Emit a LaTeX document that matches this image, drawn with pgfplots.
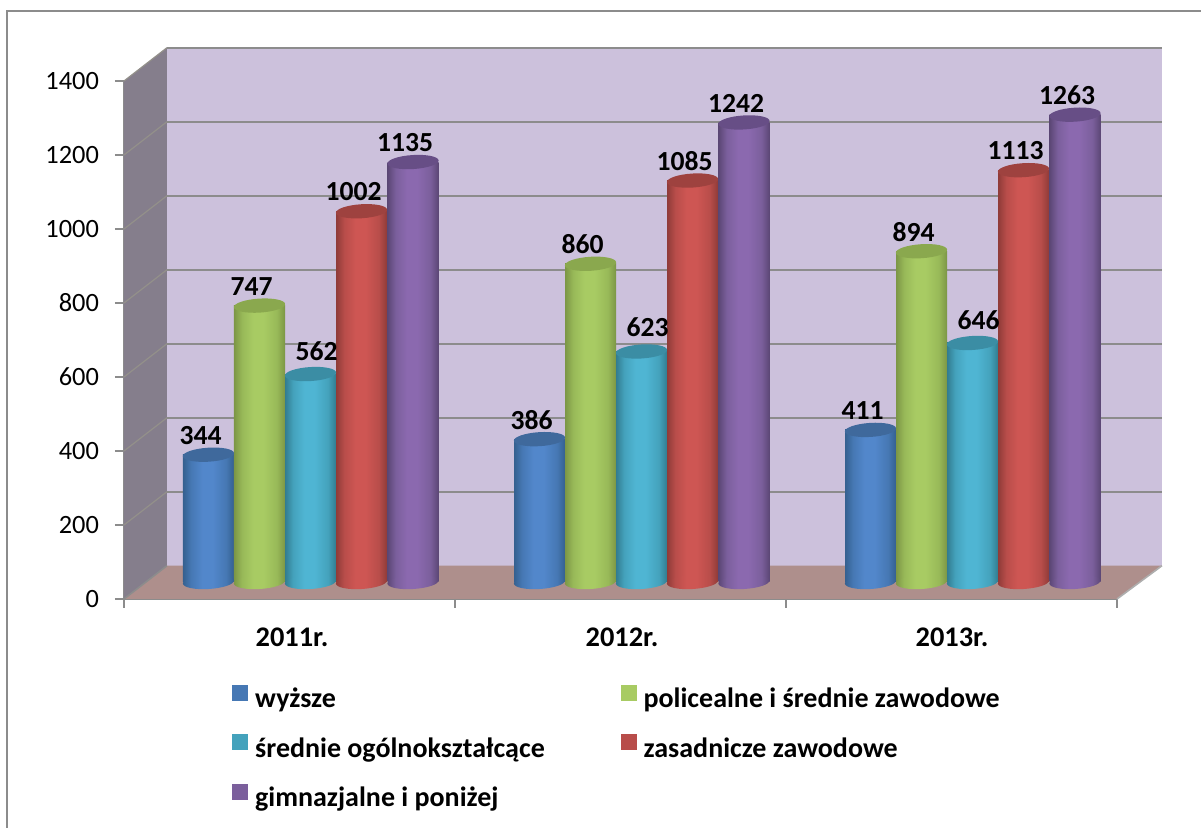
\documentclass[border=0pt]{standalone}
\usepackage{fontspec}
\setmainfont{Carlito}
\usepackage{pgfplots}
\pgfplotsset{compat=1.18}

% 1 reference pixel = 0.5pt; x axis is in reference pixels
\definecolor{wallback}{HTML}{CCC1DC}
\definecolor{wallside}{HTML}{857E8C}
\definecolor{wallfloor}{HTML}{AE8F8C}
\definecolor{linegray}{HTML}{8C8C8C}
\definecolor{sideline}{HTML}{93908A}

\definecolor{bluedk}{HTML}{35608F}\definecolor{bluemd}{HTML}{4678B4}\definecolor{bluelt}{HTML}{5287CB}\definecolor{bluetop}{HTML}{3F699C}
\definecolor{greendk}{HTML}{7C9646}\definecolor{greenmd}{HTML}{98B958}\definecolor{greenlt}{HTML}{A8CB63}\definecolor{greentop}{HTML}{8AA84E}
\definecolor{tealdk}{HTML}{327C90}\definecolor{tealmd}{HTML}{44A2BC}\definecolor{teallt}{HTML}{4FB5D3}\definecolor{tealtop}{HTML}{3B8DA4}
\definecolor{reddk}{HTML}{8F3B38}\definecolor{redmd}{HTML}{B84D4A}\definecolor{redlt}{HTML}{CE5653}\definecolor{redtop}{HTML}{9E423F}
\definecolor{purpledk}{HTML}{5B4775}\definecolor{purplemd}{HTML}{7B5F9C}\definecolor{purplelt}{HTML}{8B69AF}\definecolor{purpletop}{HTML}{674E86}

\newcommand{\cylshading}[1]{%
  \pgfdeclarehorizontalshading{cyl#1}{100bp}{%
    color(0bp)=(#1dk); color(25bp)=(#1dk); color(33bp)=(#1md); color(44bp)=(#1lt);
    color(54bp)=(#1lt); color(67bp)=(#1md); color(75bp)=(#1dk); color(100bp)=(#1dk)}%
  \pgfdeclareplotmark{base#1}{%
    \pgfpathellipse{\pgfpointorigin}{\pgfqpoint{12.8pt}{0.8pt}}{\pgfqpoint{-0.2pt}{3.5pt}}%
    \pgfshadepath{cyl#1}{0}\pgfusepath{discard}}%
}
\cylshading{blue}\cylshading{green}\cylshading{teal}\cylshading{red}\cylshading{purple}

\pgfdeclareplotmark{cylcap}{%
  \pgfpathellipse{\pgfpointorigin}{\pgfqpoint{12.8pt}{0.8pt}}{\pgfqpoint{-0.2pt}{3.5pt}}%
  \pgfusepathqfill}

% one cylinder: bottom ellipse, column, top ellipse with its value
\newcommand{\cyl}[4][xshift=-4pt, yshift=9.7pt]{%
  \addplot[forget plot, only marks, yshift=8.5pt, mark=base#2] coordinates {(#3,0)};
  \addplot[forget plot, ybar, yshift=8.5pt, bar width=25.5pt, draw=none, shade, shading=cyl#2] coordinates {(#3,#4)};
  \addplot[forget plot, only marks, yshift=8.5pt, mark=cylcap, mark options={draw=none, fill=#2top},
    nodes near coords, every node near coord/.append style={black, anchor=center, #1,
      font=\bfseries\fontsize{13.8}{15}\selectfont}] coordinates {(#3,#4)};
}

\pgfplotsset{legbox/.style={legend image code/.code={\fill[#1] (0pt,-0.5pt) rectangle (7.5pt,7pt);}}}

\begin{document}
\begin{tikzpicture}
\path[use as bounding box] (-62pt,-114.5pt) rectangle (538.5pt,299.5pt);
\begin{axis}[
    scale only axis,
    width=496.5pt,
    height=259pt,
    clip=false,
    xmin=124, xmax=1117,
    ymin=0, ymax=1400,
    axis lines=left,
    axis line style={-, linegray, line width=1pt},
    tick style={linegray, line width=1pt},
    tick align=outside,
    major tick length=4.5pt,
    ytick={0,200,400,600,800,1000,1200,1400},
    xtick={124,455,786,1117},
    xticklabels={},
    extra x ticks={292,622,952},
    extra x tick labels={2011r.,2012r.,2013r.},
    extra x tick style={major tick length=0pt,
      tick label style={yshift=-11pt, font=\bfseries\fontsize{14.2}{16}\selectfont}},
    yticklabel style={font=\fontsize{13.2}{15}\selectfont, xshift=-4.5pt},
    /pgf/number format/assume math mode=true,
    /pgf/number format/set thousands separator={},
    legend columns=2,
    legend cell align=left,
    legend style={at={(axis cs:226,-217)}, anchor=north west, draw=none, fill=none,
      font=\bfseries\fontsize{14}{16}\selectfont,
      /tikz/every odd column/.append style={column sep=1.5pt},
      /tikz/every even column/.append style={column sep=36pt},
      /tikz/row sep=9.5pt},
]
\addlegendimage{legbox=bluemd}\addlegendentry{wyższe}
\addlegendimage{legbox=greenlt}\addlegendentry{policealne i średnie zawodowe}
\addlegendimage{legbox=tealmd}\addlegendentry{średnie ogólnokształcące}
\addlegendimage{legbox=redmd}\addlegendentry{zasadnicze zawodowe}
\addlegendimage{legbox=purplemd}\addlegendentry{gimnazjalne i poniżej}

% outer frame
\addplot[forget plot, linegray, line width=1.2pt] coordinates {(7,-619) (7,1589) (1201,1589)};

% walls and floor
\addplot[forget plot, fill=wallback, draw=none] coordinates {(167,90) (1162,90) (1162,1490) (167,1490)} -- cycle;
\addplot[forget plot, fill=wallside, draw=none] coordinates {(124,0) (124,1400) (167,1490) (167,90)} -- cycle;
\addplot[forget plot, fill=wallfloor, draw=none] coordinates {(124,0) (167,90) (1162,90) (1117,0)} -- cycle;

% grid on the back wall
\addplot[forget plot, linegray, line width=1pt] coordinates {(167,290) (1162,290)};
\addplot[forget plot, linegray, line width=1pt] coordinates {(167,490) (1162,490)};
\addplot[forget plot, linegray, line width=1pt] coordinates {(167,690) (1162,690)};
\addplot[forget plot, linegray, line width=1pt] coordinates {(167,890) (1162,890)};
\addplot[forget plot, linegray, line width=1pt] coordinates {(167,1090) (1162,1090)};
\addplot[forget plot, linegray, line width=1pt] coordinates {(167,1290) (1162,1290)};
\addplot[forget plot, linegray, line width=1pt] coordinates {(167,1490) (1162,1490)};
% grid on the side wall
\addplot[forget plot, sideline, line width=0.6pt] coordinates {(124,200) (167,290)};
\addplot[forget plot, sideline, line width=0.6pt] coordinates {(124,400) (167,490)};
\addplot[forget plot, sideline, line width=0.6pt] coordinates {(124,600) (167,690)};
\addplot[forget plot, sideline, line width=0.6pt] coordinates {(124,800) (167,890)};
\addplot[forget plot, sideline, line width=0.6pt] coordinates {(124,1000) (167,1090)};
\addplot[forget plot, sideline, line width=0.6pt] coordinates {(124,1200) (167,1290)};
\addplot[forget plot, sideline, line width=0.6pt] coordinates {(124,1400) (167,1490)};
\addplot[forget plot, linegray, line width=0.8pt] coordinates {(124,0) (167,90)};
\addplot[forget plot, linegray!70, line width=0.8pt] coordinates {(1117,0) (1162,90)};

% wyższe
\cyl{blue}{208.5}{344}
\cyl{blue}{539.5}{386}
\cyl{blue}{870.5}{411}
% policealne i średnie zawodowe
\cyl{green}{259.5}{747}
\cyl{green}{590.5}{860}
\cyl{green}{921.5}{894}
% średnie ogólnokształcące
\cyl[xshift=3pt, yshift=11.5pt]{teal}{310.5}{562}
\cyl[xshift=3pt, yshift=12pt]{teal}{641.5}{623}
\cyl[xshift=3pt, yshift=11.5pt]{teal}{972.5}{646}
% zasadnicze zawodowe
\cyl{red}{361.5}{1002}
\cyl{red}{692.5}{1085}
\cyl{red}{1023.5}{1113}
% gimnazjalne i poniżej
\cyl{purple}{413}{1135}
\cyl{purple}{744}{1242}
\cyl{purple}{1075}{1263}
\end{axis}
\end{tikzpicture}
\end{document}
